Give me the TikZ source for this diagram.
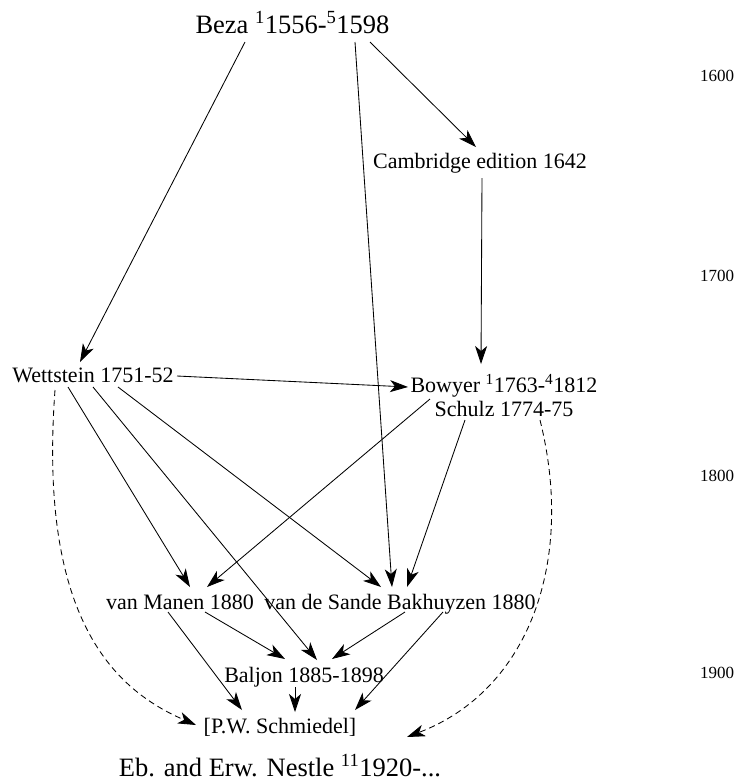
\documentclass[tikz,border=0pt]{standalone}
\usepackage{fontspec}
\setmainfont{Liberation Serif}
\usetikzlibrary{arrows.meta}
\tikzset{
  ed/.style={anchor=base, inner sep=0pt, font=\fontsize{22}{24}\selectfont},
  edbig/.style={anchor=base, inner sep=0pt, font=\fontsize{26.5}{29}\selectfont},
  yr/.style={anchor=base, inner sep=0pt, font=\fontsize{17}{19}\selectfont},
  link/.style={line width=0.85pt, -{Stealth[length=18pt,width=12pt,inset=5pt]}},
  loose/.style={link, dash pattern=on 6pt off 4pt}
}
\newcommand{\sps}[1]{\textsuperscript{#1}}
\begin{document}
\begin{tikzpicture}[x=1pt, y=-1pt]
\useasboundingbox (0,0) rectangle (740,782);

% editions
\node[edbig] (beza)   at (292.5,33) {Beza \sps{1}1556-\sps{5}1598};
\node[ed]    (camb)   at (480,168)  {Cambridge edition 1642};
\node[ed]    (wett)   at (93,382)   {Wettstein 1751-52};
\node[ed]    (bowy)   at (504,392)  {Bowyer \sps{1}1763-\sps{4}1812};
\node[ed]    (schulz) at (504,416)  {Schulz 1774-75};
\node[ed]    (manen)  at (180,609)  {van Manen 1880};
\node[ed]    (sande)  at (400,609)  {van de Sande Bakhuyzen 1880};
\node[ed]    (baljon) at (304,682)  {Baljon 1885-1898};
\node[ed]    (schm)   at (280,733)  {[P.W. Schmiedel]};
\node[edbig] (nestle) at (280,776)  {Eb. and Erw. Nestle \sps{11}1920-...};

% century scale
\node[yr] (y1600) at (717,81)  {1600};
\node[yr] (y1700) at (717,281) {1700};
\node[yr] (y1800) at (717,481) {1800};
\node[yr] (y1900) at (717,678) {1900};

% dependencies
\draw[link] ([shift={(-47.5,9)}]beza.base) -- ([shift={(-13,-20)}]wett.base);
\draw[link] ([shift={(62.5,9)}]beza.base)  -- ([shift={(-8,-22)}]sande.base);
\draw[link] ([shift={(77.5,9)}]beza.base)  -- ([shift={(-4,-21)}]camb.base);
\draw[link] ([shift={(2,10)}]camb.base)    -- ([shift={(-23,-28)}]bowy.base);
\draw[link] ([shift={(84,-6)}]wett.base)   -- ([shift={(-96,-5)}]bowy.base);
\draw[link] ([shift={(-74,7)}]bowy.base)   -- ([shift={(27,-22)}]manen.base);
\draw[link] ([shift={(-39,4)}]schulz.base) -- ([shift={(7,-22)}]sande.base);
\draw[link] ([shift={(-25,5)}]wett.base)   -- ([shift={(10,-22)}]manen.base);
\draw[link] ([shift={(0,5)}]wett.base)     -- ([shift={(13,-22)}]baljon.base);
\draw[link] ([shift={(25,5)}]wett.base)    -- ([shift={(-19,-22)}]sande.base);
\draw[link] ([shift={(-12,3)}]manen.base)  -- ([shift={(-38,-23)}]schm.base);
\draw[link] ([shift={(25,3)}]manen.base)   -- ([shift={(-19,-23)}]baljon.base);
\draw[link] ([shift={(5,3)}]sande.base)    -- ([shift={(28,-23)}]baljon.base);
\draw[link] ([shift={(43,3)}]sande.base)   -- ([shift={(75,-23)}]schm.base);
\draw[link] ([shift={(-9,5)}]baljon.base)  -- ([shift={(15,-21)}]schm.base);

% indirect influence
\draw[loose] ([shift={(-38,8)}]wett.base) .. controls (38,620) and (115,690) .. ([shift={(-84,-51)}]nestle.base);
\draw[loose] ([shift={(36,4)}]schulz.base) .. controls (575,560) and (530,690) .. ([shift={(127,-39)}]nestle.base);
\end{tikzpicture}
\end{document}
